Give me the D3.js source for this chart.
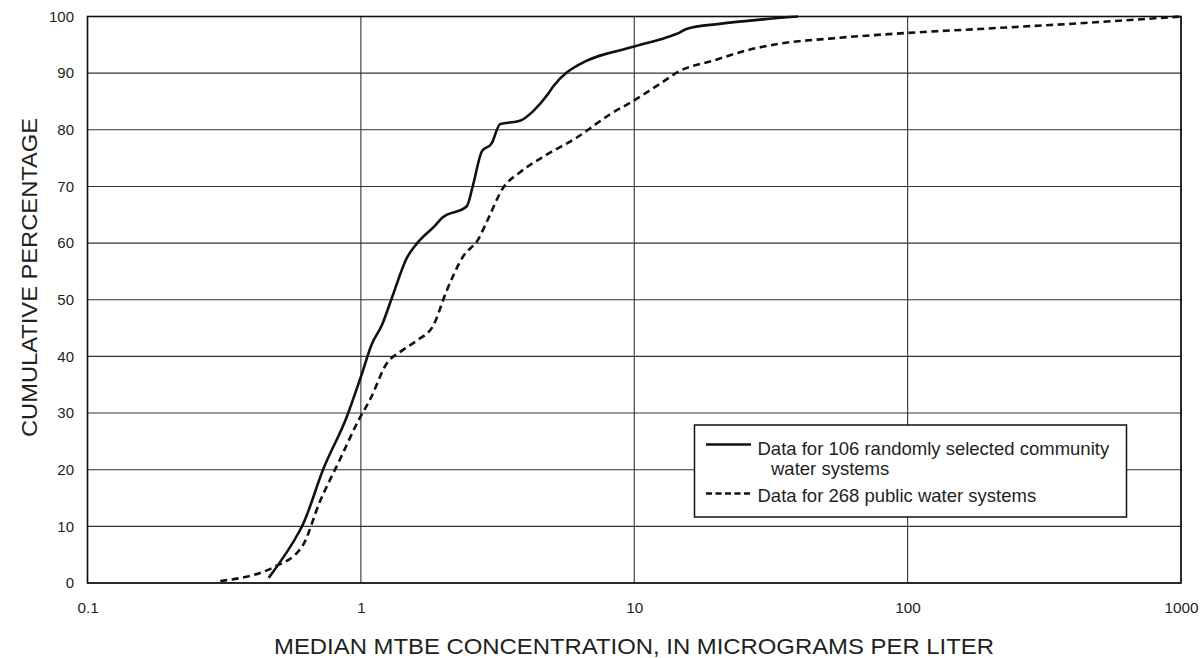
<!DOCTYPE html>
<html><head><meta charset="utf-8">
<script src="https://cdn.jsdelivr.net/npm/d3@7"></script>
<style>body{margin:0;background:#fff}svg{display:block}text{font-family:"Liberation Sans",Arial,sans-serif;fill:#231f20}</style>
</head><body><svg id="c" width="1200" height="658"></svg>
<script>
// Data
const seriesNames = ["Data for 106 randomly selected community|water systems", "Data for 268 public water systems"];
const communityConc = [0.46, 0.60, 0.609, 0.73, 0.889, 1.0, 1.097, 1.193, 1.298, 1.473, 1.602, 1.868, 1.977, 2.44, 2.58, 2.77, 3.01, 3.23, 3.82, 4.27, 4.85, 5.06, 5.66, 6.33, 10, 13.1, 14.7, 15.5, 20.5, 29.6, 39.7];
const communityPct  = [0.9, 9.4, 10.0, 20.2, 29.4, 36.4, 42.2, 45.5, 50.3, 57.4, 59.9, 63.1, 64.4, 66.5, 70.5, 76.2, 77.6, 81.0, 81.6, 83.3, 86.4, 87.7, 90.1, 91.6, 94.7, 96.3, 97.2, 97.8, 98.7, 99.5, 100];
const publicConc = [0.306, 0.48, 0.609, 0.71, 0.84, 0.98, 1.081, 1.245, 1.392, 1.602, 1.842, 2.06, 2.37, 2.69, 2.89, 3.32, 3.82, 4.78, 6.15, 8.14, 10, 12.4, 14.7, 19.4, 25.7, 34.0, 51.8, 100, 183, 425, 1000];
const publicPct  = [0.35, 2.8, 6.4, 14.5, 21.9, 28.7, 32.4, 38.8, 40.8, 42.8, 45.5, 51.6, 57.7, 60.7, 63.8, 69.8, 72.5, 75.6, 78.6, 82.7, 85.2, 88.1, 90.4, 92.2, 94.0, 95.2, 96.1, 97.1, 97.8, 98.8, 100];
const xTicks = [0.1, 1, 10, 100, 1000];
const xTickLabels = ["0.1", "1", "10", "100", "1000"];
const yTicks = [0, 10, 20, 30, 40, 50, 60, 70, 80, 90, 100];
const xTitle = "MEDIAN MTBE CONCENTRATION, IN MICROGRAMS PER LITER";
const yTitle = "CUMULATIVE PERCENTAGE";

const FONT = '"Liberation Sans",Arial,sans-serif';
const svg = d3.select("#c");
const L = 87.5, R = 1181, T = 16.5, B = 583;
const x = d3.scaleLog().domain([0.1, 1000]).range([L, R]);
const y = d3.scaleLinear().domain([0, 100]).range([B, T]);

// gridlines
const g = svg.append("g");
g.selectAll("line.h").data(yTicks).join("line")
  .attr("x1", L).attr("x2", R).attr("y1", d => y(d)).attr("y2", d => y(d))
  .attr("stroke", "#333").attr("stroke-width", 1.1);
g.selectAll("line.v").data(xTicks).join("line")
  .attr("y1", T).attr("y2", B).attr("x1", d => x(d)).attr("x2", d => x(d))
  .attr("stroke", "#333").attr("stroke-width", 1.1);

// axes (labels only)
const yAxis = d3.axisLeft(y).tickValues(yTicks).tickSize(0).tickPadding(13.5).tickFormat(d3.format("d"));
const ya = svg.append("g").attr("transform", `translate(${L},0)`).call(yAxis);
ya.select(".domain").remove();
ya.selectAll("text").attr("font-size", 15).style("font-family", FONT).attr("fill", "#231f20");

const xAxis = d3.axisBottom(x).tickValues(xTicks).tickSize(0).tickPadding(19.5).tickFormat((d, i) => xTickLabels[i]);
const xa = svg.append("g").attr("transform", `translate(0,${B})`).call(xAxis);
xa.select(".domain").remove();
xa.selectAll("text").attr("font-size", 15.3).style("font-family", FONT).attr("fill", "#231f20");

// frame
svg.append("rect").attr("x", L).attr("y", T).attr("width", R - L).attr("height", B - T)
  .attr("fill", "none").attr("stroke", "#111").attr("stroke-width", 1.6);

// lines
const line = d3.line().x(d => x(d[0])).y(d => y(d[1])).curve(d3.curveMonotoneX);
const comm = communityConc.map((c, i) => [c, communityPct[i]]);
const pub = publicConc.map((c, i) => [c, publicPct[i]]);
svg.append("path").datum(pub).attr("d", line).attr("fill", "none")
  .attr("stroke", "#111").attr("stroke-width", 2.6).attr("stroke-dasharray", "7,4.5");
svg.append("path").datum(comm).attr("d", line).attr("fill", "none")
  .attr("stroke", "#111").attr("stroke-width", 2.6);

// titles
svg.append("text").attr("x", 634).attr("y", 653.5).attr("text-anchor", "middle")
  .attr("font-size", 22).attr("textLength", 720).attr("lengthAdjust", "spacingAndGlyphs").text(xTitle);
svg.append("text").attr("transform", "translate(36.5,277.5) rotate(-90)").attr("text-anchor", "middle")
  .attr("font-size", 22.5).attr("textLength", 319).attr("lengthAdjust", "spacingAndGlyphs").text(yTitle);

// legend
const lg = svg.append("g");
lg.append("rect").attr("x", 694.5).attr("y", 425).attr("width", 432).attr("height", 92)
  .attr("fill", "#fff").attr("stroke", "#111").attr("stroke-width", 1.5);
lg.append("line").attr("x1", 706).attr("x2", 751).attr("y1", 444.5).attr("y2", 444.5)
  .attr("stroke", "#111").attr("stroke-width", 2.4);
lg.append("line").attr("x1", 706).attr("x2", 752).attr("y1", 493.5).attr("y2", 493.5)
  .attr("stroke", "#111").attr("stroke-width", 2.4).attr("stroke-dasharray", "6,3.5");
const n1 = seriesNames[0].split("|");
lg.append("text").attr("x", 757.5).attr("y", 455).attr("font-size", 18.5).text(n1[0]);
lg.append("text").attr("x", 771).attr("y", 474.5).attr("font-size", 18.5).text(n1[1]);
lg.append("text").attr("x", 757.5).attr("y", 502).attr("font-size", 18.5).text(seriesNames[1]);
</script></body></html>
